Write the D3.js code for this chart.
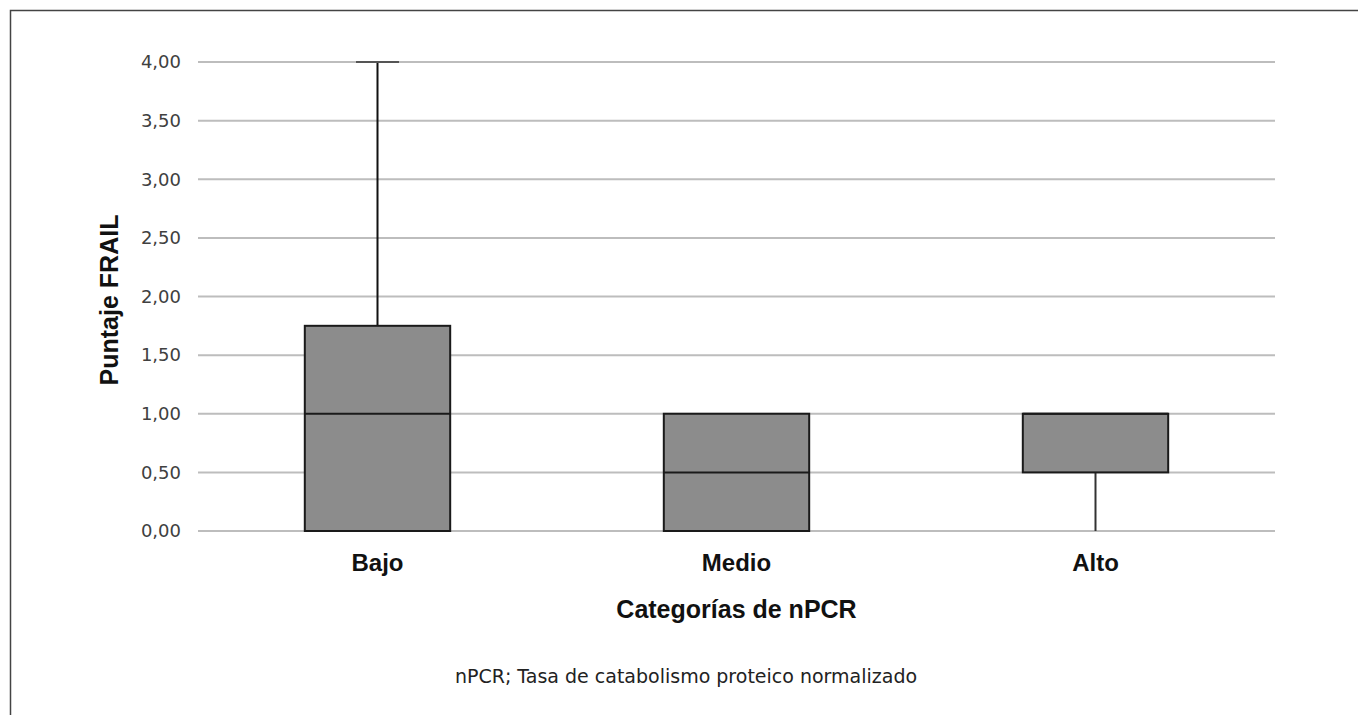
<!DOCTYPE html>
<html>
<head>
<meta charset="utf-8">
<script src="https://cdn.jsdelivr.net/npm/d3@7"></script>
<style>
  body { margin: 0; background: #fff; }
  svg { display: block; }
</style>
</head>
<body>
<div id="chart"></div>
<script>
// data
var categories = ["Bajo", "Medio", "Alto"];
var minVals = [0, 0, 0];
var q1Vals = [0, 0, 0.5];
var medianVals = [1, 0.5, 1];
var q3Vals = [1.75, 1, 1];
var maxVals = [4, 1, 1];
var yTicks = [0, 0.5, 1, 1.5, 2, 2.5, 3, 3.5, 4];

var W = 1358, H = 715;
var margin = {top: 62, right: 83, bottom: 184, left: 198},
    width = W - margin.left - margin.right,
    height = H - margin.top - margin.bottom;

var svg = d3.select("#chart").append("svg")
  .attr("width", W).attr("height", H);

// frame (left + top edges only, as in the figure)
svg.append("path")
  .attr("d", "M10.5," + H + "V10.5H" + W)
  .attr("fill", "none")
  .attr("stroke", "#444")
  .attr("stroke-width", 1.5);

var g = svg.append("g")
  .attr("transform", "translate(" + margin.left + "," + margin.top + ")");

var x = d3.scaleBand().domain(categories).range([0, width]);
var y = d3.scaleLinear().domain([0, 4]).range([height, 0]);
var fmt = function(v) { return d3.format(".2f")(v).replace(".", ","); };

// gridlines
g.selectAll(".grid").data(yTicks).enter().append("line")
  .attr("x1", 0).attr("x2", width)
  .attr("y1", function(d) { return y(d); })
  .attr("y2", function(d) { return y(d); })
  .attr("stroke", "#bdbdbd").attr("stroke-width", 2);

// y axis labels
var yAxis = g.append("g").call(d3.axisLeft(y).tickValues(yTicks).tickFormat(fmt).tickSize(0).tickPadding(17));
yAxis.select(".domain").remove();
yAxis.selectAll("text")
  .attr("font-family", "'DejaVu Sans', Verdana, sans-serif")
  .attr("font-size", 18).attr("fill", "#404040");

// x axis labels
var xAxis = g.append("g").attr("transform", "translate(0," + height + ")")
  .call(d3.axisBottom(x).tickSize(0).tickPadding(0));
xAxis.select(".domain").remove();
xAxis.selectAll("text")
  .attr("dy", null).attr("y", 40)
  .attr("font-family", "'Liberation Sans', Arial, sans-serif")
  .attr("font-weight", "bold").attr("font-size", 24).attr("fill", "#111");

var boxW = x.bandwidth() * 0.405;
var capW = 43;

var boxes = g.selectAll(".box").data(categories).enter().append("g")
  .attr("transform", function(d) { return "translate(" + (x(d) + x.bandwidth() / 2) + ",0)"; });

// whiskers
boxes.append("line")
  .attr("x1", 0).attr("x2", 0)
  .attr("y1", function(d, i) { return y(maxVals[i]); })
  .attr("y2", function(d, i) { return y(q3Vals[i]); })
  .attr("stroke", "#111").attr("stroke-width", 2);
boxes.append("line")
  .attr("x1", 0).attr("x2", 0)
  .attr("y1", function(d, i) { return y(q1Vals[i]); })
  .attr("y2", function(d, i) { return y(minVals[i]); })
  .attr("stroke", "#333").attr("stroke-width", 2);
boxes.filter(function(d, i) { return maxVals[i] > q3Vals[i]; }).append("line")
  .attr("x1", -capW / 2).attr("x2", capW / 2)
  .attr("y1", function(d) { return y(maxVals[categories.indexOf(d)]); })
  .attr("y2", function(d) { return y(maxVals[categories.indexOf(d)]); })
  .attr("stroke", "#555").attr("stroke-width", 2);

// boxes
boxes.append("rect")
  .attr("x", -boxW / 2).attr("width", boxW)
  .attr("y", function(d, i) { return y(q3Vals[i]); })
  .attr("height", function(d, i) { return y(q1Vals[i]) - y(q3Vals[i]); })
  .attr("fill", "#8c8c8c").attr("stroke", "#1a1a1a").attr("stroke-width", 2);
boxes.append("line")
  .attr("x1", -boxW / 2).attr("x2", boxW / 2)
  .attr("y1", function(d, i) { return y(medianVals[i]); })
  .attr("y2", function(d, i) { return y(medianVals[i]); })
  .attr("stroke", "#1a1a1a").attr("stroke-width", 2);

// axis titles
svg.append("text")
  .attr("x", margin.left + width / 2).attr("y", 618)
  .attr("text-anchor", "middle")
  .attr("font-family", "'Liberation Sans', Arial, sans-serif")
  .attr("font-weight", "bold").attr("font-size", 25).attr("fill", "#111")
  .text("Categorías de nPCR");

svg.append("text")
  .attr("transform", "translate(118,300) rotate(-90)")
  .attr("text-anchor", "middle")
  .attr("font-family", "'Liberation Sans', Arial, sans-serif")
  .attr("font-weight", "bold").attr("font-size", 25).attr("fill", "#111")
  .text("Puntaje FRAIL");

// footnote
svg.append("text")
  .attr("x", 686).attr("y", 683)
  .attr("text-anchor", "middle")
  .attr("font-family", "'DejaVu Sans', Verdana, sans-serif")
  .attr("font-size", 19).attr("fill", "#222")
  .text("nPCR; Tasa de catabolismo proteico normalizado");
</script>
</body>
</html>
